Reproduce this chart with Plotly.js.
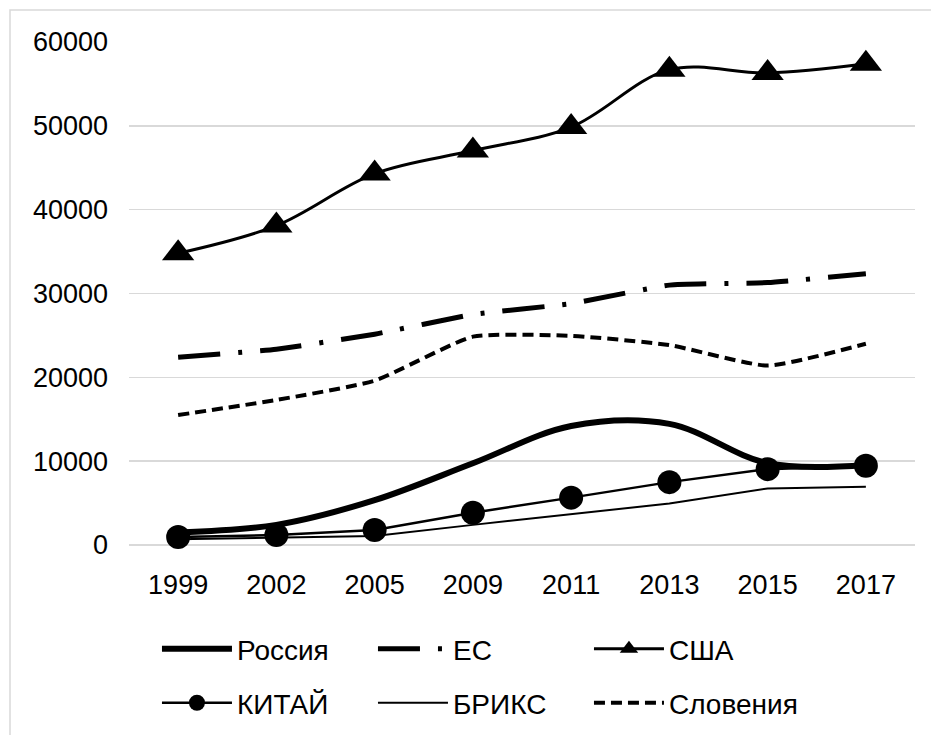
<!DOCTYPE html>
<html>
<head>
<meta charset="utf-8">
<script src="https://cdn.plot.ly/plotly-3.0.1.min.js"></script>
<style>html,body{margin:0;padding:0;background:#fff;}#chart{width:931px;height:735px;}</style>
</head>
<body>
<div id="chart"></div>
<script>
const years = ['1999', '2002', '2005', '2009', '2011', '2013', '2015', '2017'];
const russia   = [1500, 2400, 5350, 9750, 14200, 14450, 9750, 9550];
const eu       = [22400, 23350, 25150, 27500, 28800, 31000, 31300, 32350];
const usa      = [34800, 38100, 44300, 47050, 49850, 56700, 56300, 57400];
const china    = [950, 1200, 1800, 3850, 5650, 7500, 9050, 9450];
const brics    = [700, 870, 1070, 2400, 3650, 4950, 6750, 6950];
const slovenia = [15500, 17300, 19600, 24850, 24950, 23850, 21400, 24000];
const names = ['Россия', 'ЕС', 'США', 'КИТАЙ', 'БРИКС', 'Словения'];

const base = {x: years, type: 'scatter', cliponaxis: false, hoverinfo: 'skip'};
const traces = [
  Object.assign({}, base, {y: russia, name: names[0], mode: 'lines', legend: 'legend',
    line: {color: '#000', width: 6, shape: 'spline', smoothing: 1}}),
  Object.assign({}, base, {y: eu, name: names[1], mode: 'lines', legend: 'legend',
    line: {color: '#000', width: 5, shape: 'spline', smoothing: 0.4, dash: '42px,18px,4px,18px'}}),
  Object.assign({}, base, {y: usa, name: names[2], mode: 'lines+markers', legend: 'legend',
    line: {color: '#000', width: 3, shape: 'spline', smoothing: 1},
    marker: {symbol: 'triangle-up', size: 28, color: '#000'}}),
  Object.assign({}, base, {y: china, name: names[3], mode: 'lines+markers', legend: 'legend2',
    line: {color: '#000', width: 2.5},
    marker: {symbol: 'circle', size: 24, color: '#000'}}),
  Object.assign({}, base, {y: brics, name: names[4], mode: 'lines', legend: 'legend2',
    line: {color: '#000', width: 2}}),
  Object.assign({}, base, {y: slovenia, name: names[5], mode: 'lines', legend: 'legend2',
    line: {color: '#000', width: 4, shape: 'spline', smoothing: 0.5, dash: '11px,6px'}})
];

const legendCommon = {
  orientation: 'h', xref: 'container', yref: 'container',
  xanchor: 'left', x: 0.1686, yanchor: 'middle',
  entrywidth: 131, itemwidth: 70, traceorder: 'normal',
  bgcolor: 'rgba(0,0,0,0)', borderwidth: 0,
  font: {family: 'Liberation Sans, Arial, sans-serif', size: 28, color: '#000'}
};

const layout = {
  width: 931, height: 735,
  margin: {l: 129, r: 16, t: 42, b: 190, autoexpand: false},
  paper_bgcolor: '#fff', plot_bgcolor: '#fff',
  font: {family: 'Liberation Sans, Arial, sans-serif', color: '#000'},
  showlegend: true,
  xaxis: {
    type: 'category', range: [-0.5, 7.5], showgrid: false, zeroline: false,
    showline: false, ticks: '', ticklabelstandoff: 21,
    tickfont: {size: 27, color: '#000'}
  },
  yaxis: {
    range: [0, 60000], dtick: 10000, tickformat: 'd', showgrid: true, gridcolor: '#d9d9d9', gridwidth: 1.5,
    zeroline: true, zerolinecolor: '#d9d9d9', zerolinewidth: 1.5,
    showline: false, ticks: '', ticklabelstandoff: 20,
    tickfont: {size: 27, color: '#000'}
  },
  legend: Object.assign({}, legendCommon, {y: 0.117}),
  legend2: Object.assign({}, legendCommon, {y: 0.0435}),
  shapes: [{
    type: 'rect', xref: 'paper', yref: 'paper',
    x0: -0.1514, x1: 2, y0: -2, y1: 1.0636,
    line: {color: '#d9d9d9', width: 1.5}, fillcolor: 'rgba(0,0,0,0)', layer: 'below'
  }]
};

Plotly.newPlot('chart', traces, layout, {staticPlot: true, displayModeBar: false});
</script>
</body>
</html>
